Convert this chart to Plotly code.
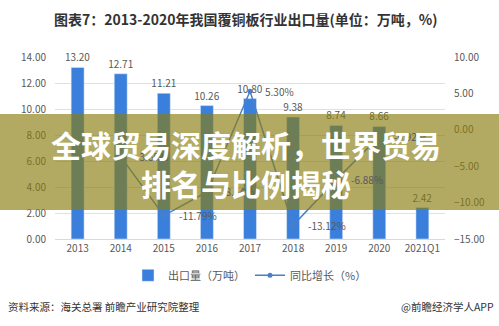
import plotly.graph_objects as go

categories = ["2013", "2014", "2015", "2016", "2017", "2018", "2019", "2020", "2021Q1"]
export_volume = [13.20, 12.71, 11.21, 10.26, 10.80, 9.38, 8.74, 8.66, 2.42]
yoy_growth = [None, -3.69, -11.79, -8.54, 5.30, -13.12, -6.88, -0.92, None]
left_ticks = [0, 2, 4, 6, 8, 10, 12, 14]
right_ticks = [-15, -10, -5, 0, 5, 10]

CJK = "Noto Sans CJK SC"
BAR_BLUE = "#3a7fdc"
LINE_BLUE = "#4a7fc8"
TXT = "#595959"

fig = go.Figure()
fig.add_trace(go.Bar(
    x=categories, y=export_volume, name="出口量（万吨）",
    marker=dict(color=BAR_BLUE), width=0.3,
    text=[f"{v:.2f}" for v in export_volume], textposition="outside",
    constraintext="none",
    textfont=dict(size=10, color=TXT, family=CJK), cliponaxis=False,
))
fig.add_trace(go.Scatter(
    x=categories, y=yoy_growth, name="同比增长（%）", yaxis="y2",
    mode="lines+markers", line=dict(color=LINE_BLUE, width=1.5),
    marker=dict(size=5, color=LINE_BLUE),
    connectgaps=False, cliponaxis=False,
))
for i, v in enumerate(yoy_growth):
    if v is None:
        continue
    fig.add_annotation(x=i, y=v, xref="x", yref="y2", text=f"{v:.2f}%",
                       xanchor="left", yanchor="middle", xshift=13, showarrow=False,
                       font=dict(size=10, color=TXT, family=CJK))

fig.update_layout(
    width=499, height=326, autosize=False,
    margin=dict(l=55, r=54, t=57, b=87),
    paper_bgcolor="white", plot_bgcolor="white",
    font=dict(family=CJK, size=10, color=TXT),
    bargap=0.7,
    xaxis=dict(type="category", categoryorder="array", categoryarray=categories,
               showgrid=False, showline=True, linecolor="#d9d9d9",
               ticks="", tickfont=dict(size=10, color=TXT)),
    yaxis=dict(range=[0, 14], tickvals=left_ticks, tickformat=".2f",
               showgrid=True, gridcolor="#e0e0e0", zeroline=False,
               tickfont=dict(size=10, color=TXT), ticklabelstandoff=8),
    yaxis2=dict(range=[-15, 10], tickvals=right_ticks, tickformat=".2f", ticksuffix="%",
                overlaying="y", side="right", showgrid=False, zeroline=False,
                tickfont=dict(size=10, color=TXT), ticklabelstandoff=8),
    legend=dict(orientation="h", x=0.5, xanchor="center", y=-0.12, yanchor="top",
                font=dict(size=11, color=TXT, family=CJK), itemwidth=30,
                traceorder="normal"),
    showlegend=True,
)

# title
fig.add_annotation(text="<b>图表7：2013-2020年我国覆铜板行业出口量(单位：万吨，%)</b>",
                   xref="paper", yref="paper", x=0.49, y=1.21, xanchor="center", yanchor="middle",
                   showarrow=False, font=dict(size=14, color="#333333", family=CJK))

# footer
fig.add_annotation(text="资料来源：海关总署 前瞻产业研究院整理", xref="paper", yref="paper",
                   x=-0.125, y=-0.37, xanchor="left", yanchor="middle", showarrow=False,
                   font=dict(size=10.5, color="#333333", family=CJK))
fig.add_annotation(text="@前瞻经济学人APP", xref="paper", yref="paper",
                   x=1.13, y=-0.37, xanchor="right", yanchor="middle", showarrow=False,
                   font=dict(size=10.5, color="#333333", family=CJK))

# overlay banner
fig.add_shape(type="rect", xref="paper", yref="paper", x0=-0.15, x1=1.15, y0=0.159, y1=0.687,
              fillcolor="rgba(137,125,14,0.65)", line=dict(width=0), layer="above")
fig.add_annotation(text="<b>全球贸易深度解析，世界贸易</b>", xref="paper", yref="paper",
                   x=0.49, y=0.52, xanchor="center", yanchor="middle", showarrow=False,
                   font=dict(size=30, color="white", family=CJK))
fig.add_annotation(text="<b>排名与比例揭秘</b>", xref="paper", yref="paper",
                   x=0.49, y=0.31, xanchor="center", yanchor="middle", showarrow=False,
                   font=dict(size=30, color="white", family=CJK))

fig.write_html("out.html")
